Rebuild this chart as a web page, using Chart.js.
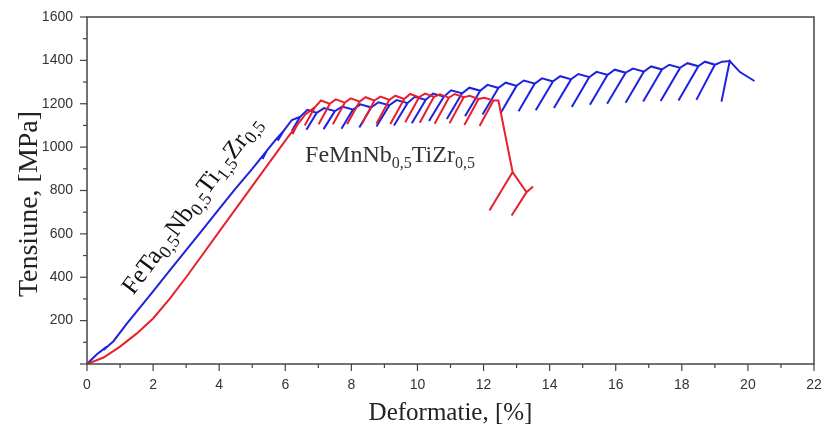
<!DOCTYPE html>
<html>
<head>
<meta charset="utf-8">
<script src="https://cdn.jsdelivr.net/npm/chart.js@4.4.1/dist/chart.umd.min.js"></script>
<style>
html, body { margin: 0; padding: 0; background: #fff; }
</style>
</head>
<body>
<canvas id="chart" width="822" height="437"></canvas>
<script>
// FeTa0,5Nb0,5Ti1,5Zr0,5 (blue) - elastic loading part
const blueLoadX = [0, 0.3, 0.6, 0.5, 0.8, 1.2, 1.6, 2.0, 2.5, 3.0, 3.5, 4.0, 4.5, 5.0];
const blueLoadY = [0, 45, 80, 65, 105, 185, 260, 335, 430, 525, 620, 715, 810, 900];
// blue cycles: unloading start, bottom of the unloading line, top of the arch to the next cycle
const bluePeakX = [5.45, 5.95, 6.45, 6.95, 7.5, 8.05, 8.6, 9.15, 9.7, 10.25, 10.8, 11.35, 11.9, 12.45, 13.0, 13.55, 14.1, 14.65, 15.2, 15.75, 16.3, 16.85, 17.4, 17.95, 18.5, 19.0, 19.45];
const bluePeakY = [985, 1075, 1140, 1158, 1166, 1173, 1183, 1193, 1203, 1218, 1233, 1248, 1260, 1273, 1283, 1293, 1303, 1313, 1323, 1333, 1343, 1348, 1358, 1366, 1373, 1380, 1397];
const blueLowX = [5.31, 5.77, 6.2, 6.64, 7.16, 7.7, 8.24, 8.76, 9.29, 9.83, 10.35, 10.89, 11.44, 11.97, 12.51, 13.06, 13.58, 14.13, 14.67, 15.22, 15.74, 16.3, 16.83, 17.36, 17.9, 18.44, 19.2];
const blueLowY = [945, 1030, 1075, 1080, 1083, 1085, 1090, 1095, 1100, 1110, 1120, 1130, 1142, 1150, 1155, 1165, 1170, 1180, 1185, 1195, 1200, 1205, 1210, 1213, 1215, 1218, 1210];
const blueArchX = [5.7, 6.2, 6.67, 7.17, 7.72, 8.27, 8.82, 9.37, 9.92, 10.47, 11.02, 11.57, 12.12, 12.67, 13.22, 13.77, 14.32, 14.87, 15.42, 15.97, 16.52, 17.07, 17.62, 18.17, 18.7, 19.22];
const blueArchY = [1032, 1125, 1172, 1180, 1187, 1197, 1207, 1217, 1232, 1247, 1262, 1274, 1287, 1297, 1307, 1317, 1327, 1337, 1347, 1357, 1362, 1372, 1380, 1387, 1394, 1394];
const blueEndX = [19.76, 20.2];
const blueEndY = [1346, 1305];

// FeMnNb0,5TiZr0,5 (red)
const redLoadX = [0, 0.5, 1.0, 1.5, 2.0, 2.5, 3.0, 3.5, 4.0, 4.5, 5.0, 5.5, 6.0];
const redLoadY = [0, 30, 80, 140, 210, 300, 400, 505, 610, 715, 820, 925, 1030];
const redPeakX = [6.35, 6.9, 7.35, 7.8, 8.25, 8.7, 9.15, 9.6, 10.05, 10.5, 10.95, 11.4, 11.85, 12.3];
const redPeakY = [1100, 1185, 1200, 1205, 1210, 1215, 1218, 1222, 1230, 1232, 1228, 1230, 1222, 1215];
const redLowX = [6.22, 6.59, 7.01, 7.44, 7.87, 8.31, 8.76, 9.18, 9.63, 10.07, 10.52, 10.97, 11.42, 11.88];
const redLowY = [1060, 1100, 1105, 1105, 1105, 1105, 1108, 1107, 1115, 1112, 1108, 1110, 1102, 1097];
const redArchX = [6.6, 7.08, 7.53, 7.98, 8.43, 8.88, 9.33, 9.78, 10.23, 10.68, 11.13, 11.58, 12.03];
const redArchY = [1150, 1215, 1220, 1225, 1230, 1233, 1237, 1245, 1247, 1243, 1245, 1237, 1228];
// fracture branch after the last cycle
const redEndX = [12.45, 12.88, 12.18, 12.88, 13.3, 12.85, 13.3, 13.5];
const redEndY = [1215, 885, 708, 885, 792, 685, 792, 818];

const xTicks = [0, 2, 4, 6, 8, 10, 12, 14, 16, 18, 20, 22];
const yTicks = [200, 400, 600, 800, 1000, 1200, 1400, 1600];

const buildPath = (lx, ly, px, py, vx, vy, ax, ay, ex, ey) => {
  const pts = lx.map((v, i) => ({ x: v, y: ly[i] }));
  px.forEach((v, i) => {
    pts.push({ x: v, y: py[i] });
    pts.push({ x: vx[i], y: vy[i] });
    pts.push({ x: v, y: py[i] });
    if (i < ax.length) pts.push({ x: ax[i], y: ay[i] });
  });
  ex.forEach((v, i) => pts.push({ x: v, y: ey[i] }));
  return pts;
};

const bluePts = buildPath(blueLoadX, blueLoadY, bluePeakX, bluePeakY, blueLowX, blueLowY, blueArchX, blueArchY, blueEndX, blueEndY);
const redPts = buildPath(redLoadX, redLoadY, redPeakX, redPeakY, redLowX, redLowY, redArchX, redArchY, redEndX, redEndY);

// text with subscripts, parts = [text, isSub]
const drawChem = (ctx, parts, x, y, angle, big, small, color) => {
  ctx.save();
  ctx.translate(x, y);
  ctx.rotate(angle);
  ctx.fillStyle = color;
  ctx.textBaseline = 'alphabetic';
  let cx = 0;
  parts.forEach(([t, sub]) => {
    ctx.font = (sub ? small : big) + 'px "Liberation Serif"';
    ctx.fillText(t, cx, sub ? big * 0.22 : 0);
    cx += ctx.measureText(t).width;
  });
  ctx.restore();
};

const frame = {
  id: 'frame',
  afterDraw(chart) {
    const { ctx, chartArea: a, scales: { x, y } } = chart;
    ctx.save();
    ctx.strokeStyle = '#444';
    ctx.lineWidth = 1.5;
    ctx.strokeRect(a.left, a.top, a.right - a.left, a.bottom - a.top);
    ctx.lineWidth = 1.2;
    x.ticks.forEach(t => {
      const p = x.getPixelForValue(t.value);
      const len = t.value % 2 === 0 ? 7 : 4;
      ctx.beginPath(); ctx.moveTo(p, a.bottom); ctx.lineTo(p, a.bottom + len); ctx.stroke();
    });
    y.ticks.forEach(t => {
      const p = y.getPixelForValue(t.value);
      const len = t.value % 200 === 0 ? 7 : 4;
      ctx.beginPath(); ctx.moveTo(a.left, p); ctx.lineTo(a.left - len, p); ctx.stroke();
    });

    // y axis title
    ctx.translate(30, 204);
    ctx.rotate(-Math.PI / 2);
    ctx.fillStyle = '#222';
    ctx.font = '28px "Liberation Serif"';
    ctx.textAlign = 'center';
    ctx.textBaseline = 'middle';
    ctx.fillText('Tensiune, [MPa]', 0, 0);
    ctx.restore();

    drawChem(ctx, [['FeTa', 0], ['0,5', 1], ['Nb', 0], ['0,5', 1], ['Ti', 0], ['1,5', 1], ['Zr', 0], ['0,5', 1]],
      x.getPixelForValue(1.4), y.getPixelForValue(315), -0.93, 25, 18, '#111');
    drawChem(ctx, [['FeMnNb', 0], ['0,5', 1], ['TiZr', 0], ['0,5', 1]],
      x.getPixelForValue(6.6), y.getPixelForValue(930), 0, 24, 16, '#333');
  }
};

new Chart(document.getElementById('chart'), {
  type: 'scatter',
  data: {
    datasets: [
      { label: 'FeMnNb0,5TiZr0,5', data: redPts, showLine: true, borderColor: '#e8202c', borderWidth: 2, pointRadius: 0, tension: 0 },
      { label: 'FeTa0,5Nb0,5Ti1,5Zr0,5', data: bluePts, showLine: true, borderColor: '#1e22e0', borderWidth: 2, pointRadius: 0, tension: 0 }
    ]
  },
  options: {
    responsive: false,
    animation: false,
    layout: { padding: { top: 17, right: 8, left: 0, bottom: 0 } },
    plugins: { legend: { display: false }, tooltip: { enabled: false } },
    scales: {
      x: {
        type: 'linear', min: 0, max: 22,
        afterFit: s => { s.height = 73; s.paddingLeft = 0; s.paddingRight = 0; },
        grid: { display: false, drawTicks: false },
        border: { display: false },
        ticks: {
          stepSize: 1, padding: 13, autoSkip: false, maxRotation: 0,
          color: '#333', font: { family: '"Liberation Sans"', size: 14 },
          callback: v => xTicks.includes(v) ? String(v) : ''
        },
        title: { display: true, text: 'Deformatie, [%]', color: '#222', padding: { bottom: 9 }, font: { family: '"Liberation Serif"', size: 25 } }
      },
      y: {
        type: 'linear', min: 0, max: 1600,
        afterFit: s => { s.width = 87; s.paddingTop = 0; s.paddingBottom = 0; },
        grid: { display: false, drawTicks: false },
        border: { display: false },
        ticks: {
          stepSize: 100, padding: 14, autoSkip: false,
          color: '#333', font: { family: '"Liberation Sans"', size: 14 },
          callback: v => yTicks.includes(v) ? String(v) : ''
        }
      }
    }
  },
  plugins: [frame]
});
</script>
</body>
</html>
